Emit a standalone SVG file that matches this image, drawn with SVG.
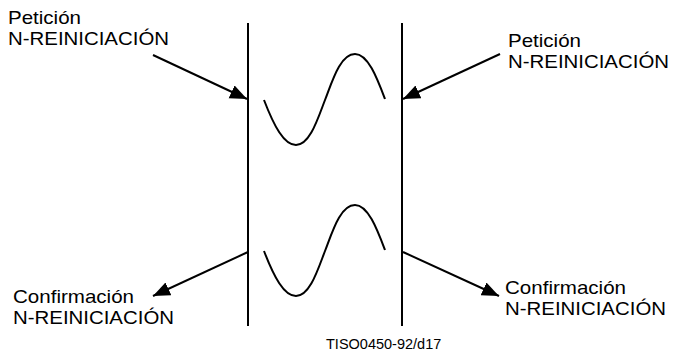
<svg xmlns="http://www.w3.org/2000/svg" width="675" height="356" viewBox="0 0 675 356">
<defs>
<style>
.t{font-family:"Liberation Sans",Arial,sans-serif;font-size:18.6px;fill:#000}
.f{font-family:"Liberation Sans",Arial,sans-serif;font-size:14.5px;fill:#000}
.ln{stroke:#000;stroke-width:2;fill:none}
.ar{stroke:#000;stroke-width:2;fill:none;marker-end:url(#ah)}
.w{stroke:#000;stroke-width:2;fill:none}
</style>
<marker id="ah" markerWidth="18" markerHeight="16" refX="17" refY="7" orient="auto" markerUnits="userSpaceOnUse">
<path d="M0,0 L17,7 L0,14 Z" fill="#000"/>
</marker>
</defs>
<g id="left-line"><line class="ln" x1="248" y1="23" x2="248" y2="326"/></g>
<g id="right-line"><line class="ln" x1="402" y1="23" x2="402" y2="326"/></g>
<g id="top-wave"><path class="w" d="M264,100 C274,126 284,145 296,145 C310,145 318,118 325,100 C332,82 340,54 355,54 C368,54 377,78 385,99"/></g>
<g id="bottom-wave"><path class="w" transform="translate(0,151)" d="M264,100 C274,126 284,145 296,145 C310,145 318,118 325,100 C332,82 340,54 355,54 C368,54 377,78 385,99"/></g>
<g id="label-tl"><text class="t" x="8" y="24" textLength="73" lengthAdjust="spacingAndGlyphs">Petición</text><text class="t" x="8" y="45" textLength="161" lengthAdjust="spacingAndGlyphs">N-REINICIACIÓN</text></g>
<g id="label-tr"><text class="t" x="508" y="47" textLength="73" lengthAdjust="spacingAndGlyphs">Petición</text><text class="t" x="508" y="68" textLength="161" lengthAdjust="spacingAndGlyphs">N-REINICIACIÓN</text></g>
<g id="label-bl"><text class="t" x="13" y="303" textLength="121" lengthAdjust="spacingAndGlyphs">Confirmación</text><text class="t" x="13" y="324" textLength="161" lengthAdjust="spacingAndGlyphs">N-REINICIACIÓN</text></g>
<g id="label-br"><text class="t" x="505" y="294" textLength="121" lengthAdjust="spacingAndGlyphs">Confirmación</text><text class="t" x="505" y="315" textLength="161" lengthAdjust="spacingAndGlyphs">N-REINICIACIÓN</text></g>
<g id="footer"><text class="f" x="326" y="349">TISO0450-92/d17</text></g>
<g id="connectors">
<line class="ar" x1="153" y1="55" x2="247" y2="99"/>
<line class="ar" x1="500" y1="54" x2="403" y2="99"/>
<line class="ar" x1="248" y1="252" x2="153" y2="296"/>
<line class="ar" x1="403" y1="252" x2="499" y2="296"/>
</g>
</svg>
